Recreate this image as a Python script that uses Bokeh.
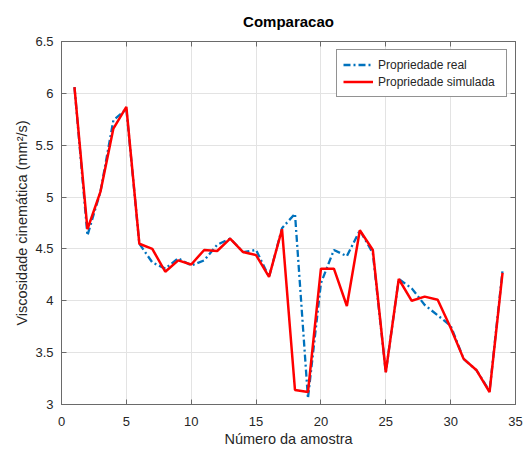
from bokeh.plotting import figure
from bokeh.models import LinearAxis, FixedTicker, Range1d, CustomJSTickFormatter
from bokeh.embed import file_html
from bokeh.resources import INLINE

# ---- data ----
amostra = [1, 2, 3, 4, 5, 6, 7, 8, 9, 10, 11, 12, 13, 14, 15, 16, 17,
           18, 19, 20, 21, 22, 23, 24, 25, 26, 27, 28, 29, 30, 31, 32, 33, 34]
prop_real = [6.06, 4.63, 5.05, 5.74, 5.85, 4.55, 4.37, 4.31, 4.41, 4.34,
             4.39, 4.54, 4.60, 4.47, 4.49, 4.23, 4.70, 4.84, 3.06, 4.17,
             4.49, 4.43, 4.68, 4.46, 3.31, 4.21, 4.12, 3.96, 3.86, 3.76,
             3.44, 3.33, 3.13, 4.29]
prop_sim = [6.06, 4.69, 5.05, 5.66, 5.87, 4.55, 4.50, 4.28, 4.39, 4.35,
            4.49, 4.48, 4.60, 4.47, 4.44, 4.23, 4.69, 3.14, 3.12, 4.31,
            4.31, 3.95, 4.68, 4.49, 3.31, 4.21, 4.00, 4.04, 4.01, 3.74,
            3.44, 3.33, 3.12, 4.27]
x_ticks = [0, 5, 10, 15, 20, 25, 30, 35]
y_ticks = [3, 3.5, 4, 4.5, 5, 5.5, 6, 6.5]
y_tick_labels = ["3", "3.5", "4", "4.5", "5", "5.5", "6", "6.5"]
series_names = ["Propriedade real", "Propriedade simulada"]
title_text = "Comparacao"
x_label = "Número da amostra"
y_label = "Viscosidade cinemática (mm²/s)"

FONT = "Liberation Sans"
AX = "#262626"
BOX = "#6a6a6a"

p = figure(width=528, height=450, output_backend="svg", toolbar_location=None,
           x_range=Range1d(0, 35), y_range=Range1d(3, 6.5),
           min_border_left=61, min_border_right=13, min_border_top=41,
           min_border_bottom=46, title=title_text)

p.title.align = "center"
p.title.text_font = FONT
p.title.text_font_size = "15px"
p.title.text_font_style = "bold"
p.title.text_color = "#000000"
p.title.vertical_align = "top"
p.title.standoff = 20

p.outline_line_color = BOX
p.outline_line_width = 1

xt = FixedTicker(ticks=x_ticks)
yt = FixedTicker(ticks=y_ticks)

for ax in (p.xaxis[0], p.yaxis[0]):
    ax.major_tick_in = 5
    ax.major_tick_out = 0
    ax.minor_tick_line_color = None
    ax.axis_line_color = BOX
    ax.major_tick_line_color = BOX
    ax.major_label_text_font = FONT
    ax.major_label_text_font_size = "13px"
    ax.major_label_text_color = AX
    ax.axis_label_text_font = FONT
    ax.axis_label_text_font_size = "14.5px"
    ax.axis_label_text_font_style = "normal"
    ax.axis_label_text_color = AX

p.xaxis[0].ticker = xt
p.yaxis[0].ticker = yt
p.yaxis[0].major_label_overrides = dict(zip([float(t) for t in y_ticks], y_tick_labels))
p.xaxis[0].axis_label = x_label
p.yaxis[0].axis_label = y_label
p.xaxis[0].major_label_standoff = 12
p.xaxis[0].axis_label_standoff = 2
p.yaxis[0].major_label_standoff = 8
p.yaxis[0].axis_label_standoff = 2

blank = CustomJSTickFormatter(code="return ''")
for loc, tk in (("right", yt), ("above", xt)):
    a = LinearAxis(ticker=tk, formatter=blank, major_tick_in=5, major_tick_out=0,
                   minor_tick_line_color=None, major_label_standoff=0,
                   axis_line_color=BOX, major_tick_line_color=BOX)
    p.add_layout(a, loc)

p.xgrid.ticker = xt
p.ygrid.ticker = yt
p.xgrid.grid_line_color = "#e3e3e3"
p.ygrid.grid_line_color = "#e3e3e3"

p.line(amostra, prop_real, line_color="#0072BD", line_width=2.3,
       line_dash="7 3 2 3", legend_label=series_names[0])
p.line(amostra, prop_sim, line_color="#FF0000", line_width=2.5,
       legend_label=series_names[1])

lg = p.legend[0]
lg.location = "top_right"
lg.margin = 8
lg.padding = 6
lg.spacing = 0
lg.glyph_width = 30
lg.glyph_height = 17
lg.label_height = 17
lg.label_width = 122
lg.label_standoff = 5
lg.label_text_font = FONT
lg.label_text_font_size = "12px"
lg.label_text_color = AX
lg.border_line_color = AX
lg.border_line_width = 1
lg.background_fill_alpha = 1.0

open("out.html", "w").write(file_html(p, INLINE))
